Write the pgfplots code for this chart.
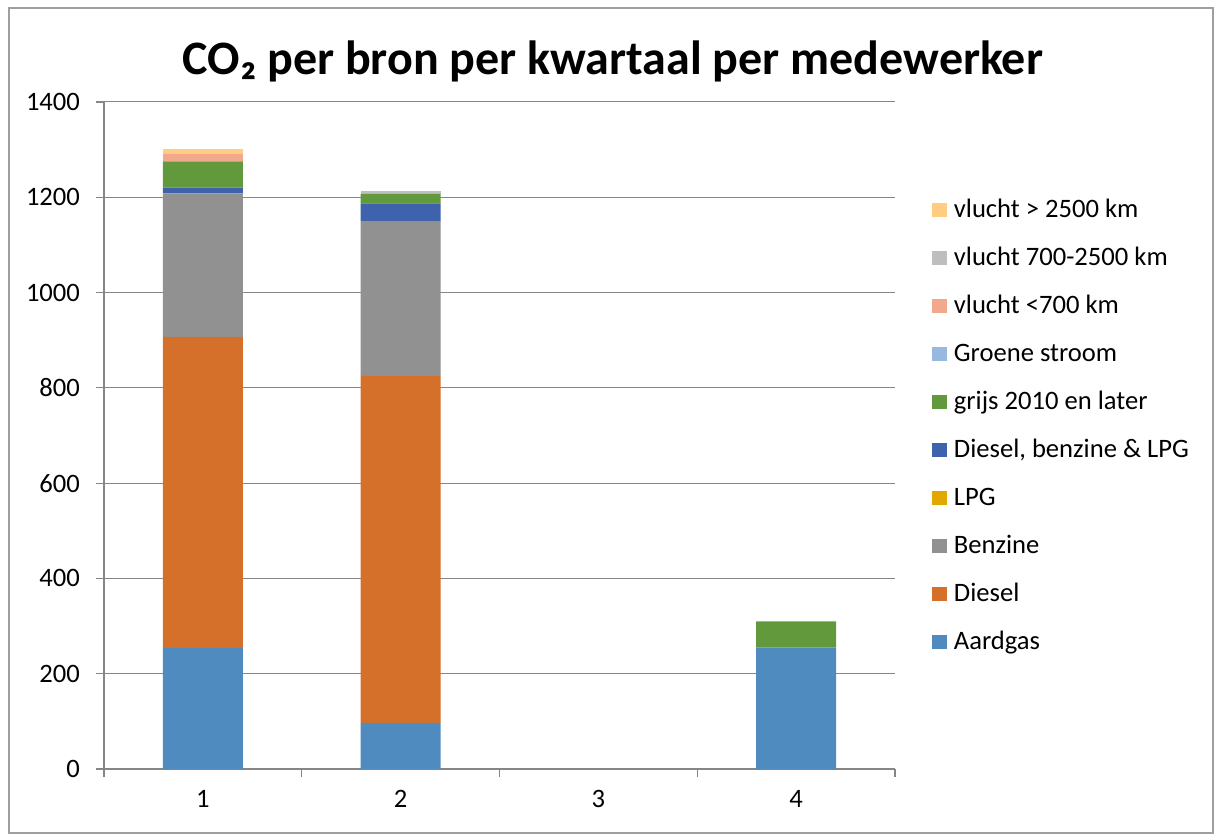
\documentclass[border=0pt]{standalone}
\usepackage{pgfplots}
\pgfplotsset{compat=1.18}
\usepackage{fontspec}
\setmainfont{Carlito}
\definecolor{axisgray}{HTML}{868686}
\definecolor{cAard}{HTML}{508BC0}
\definecolor{cDiesel}{HTML}{D4702A}
\definecolor{cBenz}{HTML}{919191}
\definecolor{cLPG}{HTML}{E0A800}
\definecolor{cDBL}{HTML}{3E63AC}
\definecolor{cGrijs}{HTML}{62993C}
\definecolor{cGroen}{HTML}{97B9E0}
\definecolor{cV1}{HTML}{F1A88C}
\definecolor{cV2}{HTML}{BEBEBE}
\definecolor{cV3}{HTML}{FFCD82}
\begin{document}
\begin{tikzpicture}
\useasboundingbox (0pt,0pt) rectangle (607pt,417pt);
\draw[color=axisgray!80, line width=0.6pt] (4.5pt,0.5pt) rectangle (606.5pt,413pt);
\node[font=\bfseries\fontsize{24}{28}\selectfont, anchor=base] at (306.5pt,379.5pt) {CO₂ per bron per kwartaal per medewerker};
\begin{scope}[shift={(52pt,32.5pt)}]
\begin{axis}[
  scale only axis,
  width=395.5pt, height=333.5pt,
  xmin=0.5, xmax=4.5, ymin=0, ymax=1400,
  ybar stacked, bar width=0.405,
  ytick={0,200,...,1400},
  xtick={0.5,1.5,2.5,3.5,4.5}, xticklabels={},
  extra x ticks={1,2,3,4}, extra x tick labels={1,2,3,4},
  extra x tick style={major tick length=0pt},
  axis lines=left, axis line style={-, color=axisgray, line width=0.6pt},
  tick style={color=axisgray, line width=0.6pt},
  tick align=outside, major tick length=4pt,
  ymajorgrids, grid style={color=axisgray, line width=0.5pt},
  tick label style={font=\fontsize{13.3}{16}\selectfont, color=black},
  yticklabel style={xshift=-4.5pt},
  xticklabel style={yshift=-7pt},
  /pgf/number format/assume math mode=true,
  /pgf/number format/1000 sep={},
  reverse legend,
  legend image code/.code={\fill[#1] (0pt,-3.5pt) rectangle (7.5pt,3.5pt);},
  legend style={at={(1.0392,0.862)}, anchor=north west, draw=none, fill=none,
    font=\fontsize{13.3}{16}\selectfont, row sep=12pt,
    nodes={inner xsep=3.25pt, inner ysep=0pt, text height=9.5pt, text depth=2.5pt}},
  legend cell align=left,
  every axis plot/.append style={draw=none},
]
\addplot[fill=cAard] coordinates {(1,254) (2,97) (3,0) (4,255)};
\addlegendentry{Aardgas}
\addplot[fill=cDiesel] coordinates {(1,653) (2,728) (3,0) (4,0)};
\addlegendentry{Diesel}
\addplot[fill=cBenz] coordinates {(1,301) (2,325) (3,0) (4,0)};
\addlegendentry{Benzine}
\addplot[fill=cLPG] coordinates {(1,0) (2,0) (3,0) (4,0)};
\addlegendentry{LPG}
\addplot[fill=cDBL] coordinates {(1,12) (2,37) (3,0) (4,0)};
\addlegendentry{Diesel, benzine \& LPG}
\addplot[fill=cGrijs] coordinates {(1,55) (2,20) (3,0) (4,55)};
\addlegendentry{grijs 2010 en later}
\addplot[fill=cGroen] coordinates {(1,0) (2,0) (3,0) (4,0)};
\addlegendentry{Groene stroom}
\addplot[fill=cV1] coordinates {(1,16) (2,0) (3,0) (4,0)};
\addlegendentry{vlucht <700 km}
\addplot[fill=cV2] coordinates {(1,0) (2,6) (3,0) (4,0)};
\addlegendentry{vlucht 700-2500 km}
\addplot[fill=cV3] coordinates {(1,10) (2,0) (3,0) (4,0)};
\addlegendentry{vlucht > 2500 km}
\end{axis}
\end{scope}
\end{tikzpicture}
\end{document}
